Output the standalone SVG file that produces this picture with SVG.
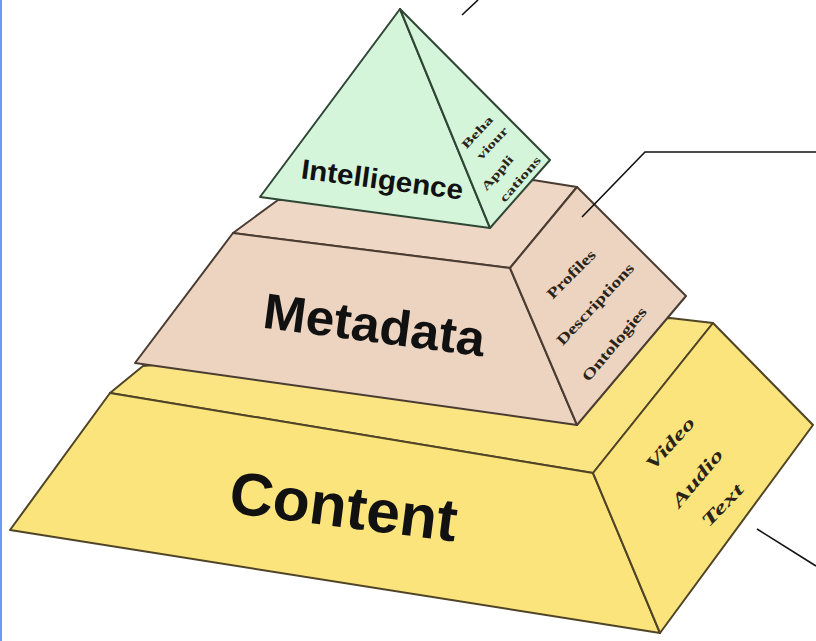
<svg xmlns="http://www.w3.org/2000/svg" width="816" height="641" viewBox="0 0 816 641">
<style>
.edge{stroke-width:2;stroke-linejoin:round}
.y{fill:#fbe47c;stroke:#4f4426}
.yt{fill:#fbe582;stroke:#4f4426}
.m{fill:#ecd4c0;stroke:#4a3c32}
.mt{fill:#eed7c4;stroke:#4a3c32}
.g{fill:#d5f5da;stroke:#2f4636}
.big{font-family:"Liberation Sans",Arial,sans-serif;font-weight:bold;fill:#111;text-anchor:middle}
.side{font-family:"Liberation Serif","Times New Roman",serif;font-weight:bold;fill:#2a2418;text-anchor:middle}
.conn{stroke:#111;stroke-width:1.6;fill:none}
</style>
<rect width="816" height="641" fill="#ffffff"/>
<rect x="0" y="0" width="2" height="641" fill="#6a9cf5"/>

<g id="content">
  <polygon class="yt edge" points="143,366 670,318 713,323 593,473 110,393"/>
  <polygon class="y edge" points="110,393 593,473 660,633 10,530"/>
  <polygon class="y edge" points="593,473 713,323 813,425 660,633"/>
  <text class="big" font-size="60" textLength="229" lengthAdjust="spacingAndGlyphs" transform="translate(341,527) rotate(7.3)">Content</text>
  <g class="side" font-style="italic" font-size="18">
    <text textLength="64" lengthAdjust="spacingAndGlyphs" dy="0.35em" transform="translate(670,443) rotate(-48)">Video</text>
    <text textLength="70" lengthAdjust="spacingAndGlyphs" dy="0.35em" transform="translate(697,478) rotate(-50)">Audio</text>
    <text textLength="52" lengthAdjust="spacingAndGlyphs" dy="0.35em" transform="translate(722,505) rotate(-46)">Text</text>
  </g>
</g>

<g id="metadata">
  <polygon class="mt edge" points="278,200 533,180 577,187 510,268 233,233"/>
  <polygon class="m edge" points="233,233 510,268 577,425 135,363"/>
  <polygon class="m edge" points="510,268 577,187 686,296 577,425"/>
  <text class="big" font-size="50" textLength="223" lengthAdjust="spacingAndGlyphs" transform="translate(372,342) rotate(7.5)">Metadata</text>
  <g class="side" font-size="15">
    <text textLength="62" lengthAdjust="spacingAndGlyphs" dy="0.35em" transform="translate(571,274) rotate(-45)">Profiles</text>
    <text textLength="106" lengthAdjust="spacingAndGlyphs" dy="0.35em" transform="translate(595,304) rotate(-47)">Descriptions</text>
    <text textLength="92" lengthAdjust="spacingAndGlyphs" dy="0.35em" transform="translate(614,344) rotate(-50)">Ontologies</text>
  </g>
</g>

<g id="intelligence">
  <polygon class="g edge" points="400,9 260,197 490,228"/>
  <polygon class="g edge" points="400,9 490,228 550,160"/>
  <text class="big" font-size="28" textLength="163" lengthAdjust="spacingAndGlyphs" transform="translate(381,189) rotate(7.5)">Intelligence</text>
  <g class="side" font-size="12">
    <text textLength="40" lengthAdjust="spacingAndGlyphs" dy="0.35em" transform="translate(477,132) rotate(-47)">Beha</text>
    <text textLength="40" lengthAdjust="spacingAndGlyphs" dy="0.35em" transform="translate(492,143) rotate(-47)">viour</text>
    <text textLength="42" lengthAdjust="spacingAndGlyphs" dy="0.35em" transform="translate(497,173) rotate(-49)">Appli</text>
    <text textLength="56" lengthAdjust="spacingAndGlyphs" dy="0.35em" transform="translate(520,179) rotate(-49)">cations</text>
  </g>
</g>

<g id="connectors">
  <line class="conn" x1="462" y1="15" x2="478" y2="0"/>
  <polyline class="conn" points="582,217 645,152 816,152"/>
  <line class="conn" x1="757" y1="529" x2="816" y2="566"/>
</g>
</svg>
